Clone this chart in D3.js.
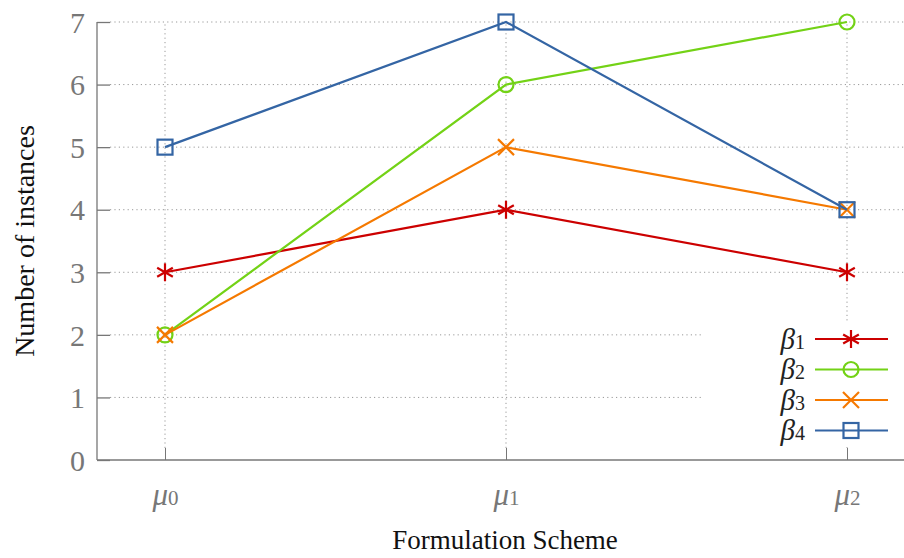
<!DOCTYPE html>
<html><head><meta charset="utf-8">
<script src="https://cdn.jsdelivr.net/npm/d3@7"></script>
<style>body{margin:0;background:#fff}svg{display:block}</style>
</head><body><svg id="c" width="904" height="558"></svg>
<script>
const categories = ["0", "1", "2"];           // subscripts of μ
const seriesNames = ["1", "2", "3", "4"];     // subscripts of β
const beta1 = [3, 4, 3];
const beta2 = [2, 6, 7];
const beta3 = [2, 5, 4];
const beta4 = [5, 7, 4];
const yTicks = [0, 1, 2, 3, 4, 5, 6, 7];

const series = [
  {name: seriesNames[0], values: beta1, color: "#cc0000", marker: "star"},
  {name: seriesNames[1], values: beta2, color: "#73d216", marker: "circle"},
  {name: seriesNames[2], values: beta3, color: "#f57900", marker: "cross"},
  {name: seriesNames[3], values: beta4, color: "#3465a4", marker: "square"}
];

const svg = d3.select("#c");
const W = 904, H = 558;
const mLeft = 97, mBottom = 460, mTop = 22;
const x = d3.scalePoint().domain(categories).range([165, 847]);
const y = d3.scaleLinear().domain([0, 7]).range([mBottom, mTop]);
const serif = "Liberation Serif, DejaVu Serif, serif";
const gray = "#777";

// grid
const g = svg.append("g");
g.selectAll(".hg").data(yTicks.filter(d => d > 0)).join("line")
  .attr("x1", mLeft + 13).attr("x2", W).attr("y1", d => y(d)).attr("y2", d => y(d))
  .attr("stroke", "#999").attr("stroke-width", 1).attr("stroke-dasharray", "1.2,3.2");
g.selectAll(".vg").data(categories).join("line")
  .attr("x1", d => x(d)).attr("x2", d => x(d)).attr("y1", mBottom - 12).attr("y2", mTop)
  .attr("stroke", "#999").attr("stroke-width", 1).attr("stroke-dasharray", "1.2,3.2");

// axes
const yAxis = d3.axisRight(y).tickValues(yTicks).tickSize(13).tickFormat("");
const ya = svg.append("g").attr("transform", `translate(${mLeft},0)`).call(yAxis);
ya.select(".domain").remove();
ya.selectAll(".tick line").attr("stroke", gray).attr("stroke-width", 1.3);
ya.append("line").attr("x1", 0).attr("x2", 0).attr("y1", mTop).attr("y2", mBottom).attr("stroke", gray).attr("stroke-width", 1.3);
ya.selectAll(".tick").append("text")
  .attr("x", -12).attr("dy", "0.34em").attr("text-anchor", "end")
  .attr("fill", gray).attr("font-family", serif).attr("font-size", 30)
  .text(d => d);

const xAxis = d3.axisTop(x).tickSize(12).tickFormat("");
const xa = svg.append("g").attr("transform", `translate(0,${mBottom})`).call(xAxis);
xa.select(".domain").remove();
xa.selectAll(".tick line").attr("stroke", gray).attr("stroke-width", 1);
xa.append("line").attr("x1", mLeft).attr("x2", W).attr("y1", 0).attr("y2", 0).attr("stroke", gray).attr("stroke-width", 1.3);
const xt = xa.selectAll(".tick").append("text")
  .attr("y", 45).attr("text-anchor", "middle")
  .attr("fill", gray).attr("font-family", serif).attr("font-size", 31);
xt.append("tspan").attr("font-style", "italic").text("μ");
xt.append("tspan").attr("font-size", 21).text(d => d);

// axis titles
svg.append("text").attr("x", 505).attr("y", 549).attr("text-anchor", "middle")
  .attr("font-family", serif).attr("font-size", 27).attr("fill", "#111").text("Formulation Scheme");
svg.append("text").attr("transform", "translate(24,241) rotate(-90)").attr("dy", "0.35em")
  .attr("text-anchor", "middle")
  .attr("font-family", serif).attr("font-size", 28).attr("fill", "#111").text("Number of instances");

// markers
function drawMarker(sel, type, color) {
  sel.each(function() {
    const m = d3.select(this);
    if (type === "star") {
      const r = 9;
      [[0, -r, 0, r], [-r*0.87, -r*0.5, r*0.87, r*0.5], [-r*0.87, r*0.5, r*0.87, -r*0.5]].forEach(p =>
        m.append("line").attr("x1", p[0]).attr("y1", p[1]).attr("x2", p[2]).attr("y2", p[3])
          .attr("stroke", color).attr("stroke-width", 2.2));
    } else if (type === "circle") {
      m.append("circle").attr("r", 7.5).attr("fill", "none").attr("stroke", color).attr("stroke-width", 2.2);
    } else if (type === "cross") {
      const r = 8;
      [[-r, -r, r, r], [-r, r, r, -r]].forEach(p =>
        m.append("line").attr("x1", p[0]).attr("y1", p[1]).attr("x2", p[2]).attr("y2", p[3])
          .attr("stroke", color).attr("stroke-width", 2.2));
    } else {
      m.append("rect").attr("x", -7.5).attr("y", -7.5).attr("width", 15).attr("height", 15)
        .attr("fill", "none").attr("stroke", color).attr("stroke-width", 2.2);
    }
  });
}

// lines
const line = d3.line().x((d, i) => x(categories[i])).y(d => y(d));
series.forEach(s => {
  svg.append("path").attr("d", line(s.values)).attr("fill", "none")
    .attr("stroke", s.color).attr("stroke-width", 2.2);
  const mk = svg.selectAll(null).data(s.values).join("g")
    .attr("transform", (d, i) => `translate(${x(categories[i])},${y(d)})`);
  drawMarker(mk, s.marker, s.color);
});

// legend
const lg = svg.append("g");
lg.append("rect").attr("x", 702).attr("y", 322).attr("width", 202).attr("height", 125).attr("fill", "#fff");
series.forEach((s, i) => {
  const yy = 339 + i * 30.5;
  const t = lg.append("text").attr("x", 805).attr("y", yy).attr("dy", "0.33em").attr("text-anchor", "end")
    .attr("font-family", serif).attr("font-size", 29).attr("fill", "#222");
  t.append("tspan").attr("font-style", "italic").text("β");
  t.append("tspan").attr("font-size", 20).text(s.name);
  lg.append("line").attr("x1", 815).attr("x2", 888).attr("y1", yy).attr("y2", yy)
    .attr("stroke", s.color).attr("stroke-width", 2.2);
  const mk = lg.append("g").attr("transform", `translate(851,${yy})`);
  drawMarker(mk, s.marker, s.color);
});
</script></body></html>
